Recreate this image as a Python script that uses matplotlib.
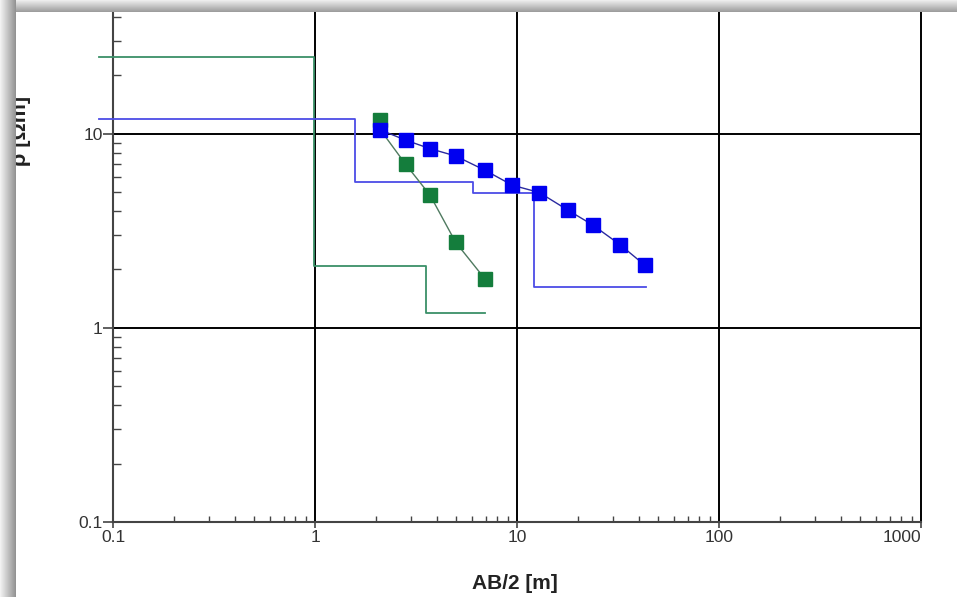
import numpy as np
import matplotlib
matplotlib.use("Agg")
import matplotlib.pyplot as plt
from matplotlib.ticker import LogLocator, FixedLocator, NullFormatter, FixedFormatter

# Measured apparent resistivity, two soundings
ab2_blue = [2.09, 2.81, 3.71, 4.97, 6.93, 9.49, 12.9, 17.8, 23.7, 32.4, 43.0]
rho_blue = [10.5, 9.27, 8.38, 7.68, 6.49, 5.43, 4.98, 4.05, 3.39, 2.68, 2.10]

ab2_green = [2.09, 2.81, 3.71, 4.97, 6.93]
rho_green = [11.8, 6.96, 4.83, 2.76, 1.79]
rho_green_fit = [10.6, 6.96, 4.83, 2.76, 1.79]

# Layered models (step curves): depth boundaries and resistivities
model_blue_x = [0.085, 1.57, 1.57, 6.07, 6.07, 12.1, 12.1, 43.4]
model_blue_y = [11.9, 11.9, 5.61, 5.61, 4.96, 4.96, 1.63, 1.63]
model_green_x = [0.085, 0.99, 0.99, 3.55, 3.55, 6.93]
model_green_y = [25.0, 25.0, 2.09, 2.09, 1.20, 1.20]

x_ticks = [0.1, 1, 10, 100, 1000]
x_tick_labels = ["0.1", "1", "10", "100", "1000"]
y_ticks = [0.1, 1, 10]
y_tick_labels = ["0.1", "1", "10"]

W, H = 957, 597
fig = plt.figure(figsize=(W / 100, H / 100), dpi=100)
fig.patch.set_facecolor("white")

ax = fig.add_axes([113 / W, 1 - 522 / H, (921 - 113) / W, (522 - 12) / H])
ax.set_xscale("log")
ax.set_yscale("log")
ax.set_xlim(0.1, 1000)
ax.set_ylim(0.1, 10 ** (1 + (134.3 - 12) / 195))

for s in ("top", "right"):
    ax.spines[s].set_visible(False)
for s in ("left", "bottom"):
    ax.spines[s].set_color("#444444")
    ax.spines[s].set_linewidth(1.5)

# decade grid
for xv in [1, 10, 100, 1000]:
    ax.axvline(xv, color="black", lw=1.4, zorder=1, clip_on=False)
for yv in [1, 10]:
    ax.axhline(yv, color="black", lw=1.4, zorder=1)

ax.xaxis.set_major_locator(FixedLocator(x_ticks))
ax.xaxis.set_major_formatter(FixedFormatter(x_tick_labels))
ax.yaxis.set_major_locator(FixedLocator(y_ticks))
ax.yaxis.set_major_formatter(FixedFormatter(y_tick_labels))
ax.xaxis.set_minor_locator(LogLocator(base=10, subs=np.arange(2, 10), numticks=20))
ax.yaxis.set_minor_locator(LogLocator(base=10, subs=np.arange(2, 10), numticks=20))
ax.xaxis.set_minor_formatter(NullFormatter())
ax.yaxis.set_minor_formatter(NullFormatter())

ax.tick_params(axis="x", which="major", direction="out", length=4, width=1.2,
               color="#444444", labelsize=12.5, labelcolor="#333333", pad=1.5)
ax.tick_params(axis="x", which="minor", direction="in", length=4.5, width=1,
               color="#444444")
ax.tick_params(axis="y", which="major", direction="out", length=7, width=1.2,
               color="#444444", labelsize=12.5, labelcolor="#333333", pad=0.5)
ax.tick_params(axis="y", which="minor", direction="in", length=5.5, width=1,
               color="#444444")
for lab in ax.get_xticklabels() + ax.get_yticklabels():
    lab.set_family("Liberation Sans")
ax.get_xticklabels()[-1].set_horizontalalignment("right")

# model step curves
ax.plot(model_green_x, model_green_y, color="#3a9068", lw=1.3, zorder=3, clip_on=False)
ax.plot(model_blue_x, model_blue_y, color="#4c4ce6", lw=1.3, zorder=3, clip_on=False)

# green sounding
ax.plot(ab2_green, rho_green_fit, color="#4f7a60", lw=1.0, zorder=4)
ax.plot(ab2_green, rho_green, ls="none", marker="s", ms=10, mfc="#147d3c",
        mec="#147d3c", zorder=5)

# blue sounding
ax.plot(ab2_blue, rho_blue, color="#2a2aa0", lw=1.0, zorder=6)
ax.plot(ab2_blue, rho_blue, ls="none", marker="s", ms=10, mfc="#0000f0",
        mec="#0000f0", zorder=7)

fig.text(514.5 / W, 1 - 583.5 / H, "AB/2 [m]", ha="center", va="center",
         fontsize=15, fontweight="bold", family="Liberation Sans", color="#222222")
fig.text(31 / W, 1 - 131 / H, "ρ [Ωm]", ha="right", va="center", rotation=90,
         fontsize=15.5, fontweight="bold", family=["Liberation Sans", "DejaVu Sans"],
         color="#222222")

# window frame shadow along the top and left edges
ov = fig.add_axes([0, 0, 1, 1], zorder=20)
ov.axis("off")
top = np.linspace(0.93, 0.62, 12)[:, None] * np.ones((1, W))
ov.imshow(np.dstack([top] * 3), extent=(0, W, 12, 0), aspect="auto", interpolation="bilinear")
left = np.ones((H, 1)) * np.linspace(0.95, 0.58, 16)[None, :]
ov.imshow(np.dstack([left] * 3), extent=(0, 16, H, 0), aspect="auto", interpolation="bilinear")
ov.set_xlim(0, W)
ov.set_ylim(H, 0)

fig.savefig("out.png", dpi=100)
